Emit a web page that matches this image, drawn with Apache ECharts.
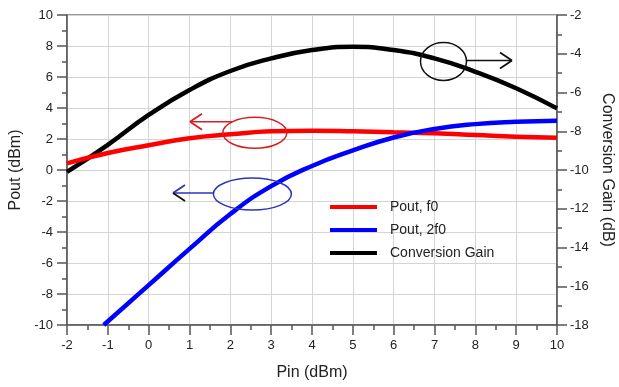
<!DOCTYPE html>
<html lang="en" style="height: 100%">
<head>
<meta charset="utf-8">
<title>Pout and Conversion Gain vs Pin</title>
</head>
<body style="height: 100%; margin: 0; background: #fff">
<div id="container" style="height: 100%"></div>
<script type="text/javascript" src="https://cdn.jsdelivr.net/npm/echarts/dist/echarts.min.js"></script>
<script type="text/javascript">

// Pin (dBm)
var pin = [-2, -1, 0, 1, 2, 3, 4, 5, 6, 7, 8, 9, 10];
// Pout at f0 (dBm), left axis
var poutF0 = [0.43, 1.1, 1.6, 2.05, 2.3, 2.5, 2.54, 2.5, 2.43, 2.37, 2.26, 2.15, 2.08];
// Pout at 2f0 (dBm), left axis; the curve enters the plot near Pin = -1.1
var pin2f0 = [-1.1, 0, 1, 2, 3, 4, 5, 6, 7, 8, 9, 10];
var pout2f0 = [-10, -7.43, -5.09, -2.84, -1.04, 0.26, 1.26, 2.1, 2.65, 2.96, 3.11, 3.18];
// Conversion gain (dB), right axis
var convGain = [-10.1, -8.7, -7.16, -5.87, -4.89, -4.24, -3.81, -3.64, -3.81, -4.24, -4.93, -5.78, -6.82];

function pairs(xs, ys) {
  return xs.map(function (x, i) { return [x, ys[i]]; });
}

var dom = document.getElementById('container');
var myChart = echarts.init(dom);
var font = 'Liberation Sans, Arial, sans-serif';

var axisLine = { show: true, onZero: false, lineStyle: { color: '#555', width: 1.5 } };
var tick = { show: true, length: 10, lineStyle: { color: '#555', width: 1.5 } };
var minor = { show: true, splitNumber: 2, length: 5, lineStyle: { color: '#555', width: 1.5 } };

var option = {
  backgroundColor: '#fff',
  animation: false,
  textStyle: { fontFamily: font },
  grid: {
    left: 67, right: 62, top: 15, bottom: 62,
    outerBoundsMode: 'none',
    show: true, borderColor: '#777', borderWidth: 1.5, backgroundColor: 'transparent'
  },
  legend: {
    orient: 'vertical',
    left: 325,
    top: 195,
    icon: 'rect',
    itemWidth: 47,
    itemHeight: 4,
    itemGap: 9,
    textStyle: { fontSize: 14, color: '#222', fontFamily: font, padding: [0, 0, 0, 8] },
    data: ['Pout, f0', 'Pout, 2f0', 'Conversion Gain']
  },
  xAxis: {
    type: 'value',
    min: -2, max: 10, interval: 1,
    name: 'Pin (dBm)',
    nameLocation: 'middle',
    nameGap: 40,
    nameTextStyle: { fontSize: 16, color: '#222' },
    axisLine: axisLine,
    axisTick: tick,
    minorTick: minor,
    axisLabel: { fontSize: 13, color: '#222', margin: 14 },
    splitLine: { show: true, lineStyle: { color: '#d4d4d4', width: 1 } }
  },
  yAxis: [
    {
      type: 'value',
      min: -10, max: 10, interval: 2,
      name: 'Pout (dBm)',
      nameLocation: 'middle',
      nameGap: 42,
      nameTextStyle: { fontSize: 16, color: '#222' },
      axisLine: axisLine,
      axisTick: tick,
      minorTick: minor,
      axisLabel: { fontSize: 13, color: '#222', margin: 14 },
      splitLine: { show: true, lineStyle: { color: '#d4d4d4', width: 1 } }
    },
    {
      type: 'value',
      position: 'right',
      min: -18, max: -2, interval: 2,
      name: 'Conversion Gain (dB)',
      nameLocation: 'middle',
      nameRotate: -90,
      nameGap: 42,
      nameTextStyle: { fontSize: 16, color: '#222' },
      axisLine: axisLine,
      axisTick: tick,
      minorTick: minor,
      axisLabel: { fontSize: 13, color: '#222', margin: 13 },
      splitLine: { show: false }
    }
  ],
  series: [
    {
      name: 'Pout, f0',
      type: 'line',
      yAxisIndex: 0,
      smooth: true,
      showSymbol: false,
      color: '#ff0000',
      lineStyle: { width: 4.5 },
      data: pairs(pin, poutF0),
      z: 3
    },
    {
      name: 'Pout, 2f0',
      type: 'line',
      yAxisIndex: 0,
      smooth: true,
      showSymbol: false,
      color: '#0000ff',
      lineStyle: { width: 4.5 },
      data: pairs(pin2f0, pout2f0),
      z: 4
    },
    {
      name: 'Conversion Gain',
      type: 'line',
      yAxisIndex: 1,
      smooth: true,
      showSymbol: false,
      color: '#000000',
      lineStyle: { width: 4.5 },
      data: pairs(pin, convGain),
      z: 2
    }
  ]
};

myChart.setOption(option);

// annotation ellipse with an arrow pointing toward its axis, anchored in data space
function ellipseArrow(cx, cy, rx, ry, dy, arrowTo, color, lowerBarbColor) {
  var c = myChart.convertToPixel({ gridIndex: 0 }, [cx, cy]);
  var dir = arrowTo < c[0] ? -1 : 1;
  var y = c[1] + dy;
  var startX = c[0] + dir * rx * Math.sqrt(Math.max(0, 1 - (dy * dy) / (ry * ry)));
  return [
    { type: 'ellipse', shape: { cx: c[0], cy: c[1], rx: rx, ry: ry },
      style: { fill: 'none', stroke: color, lineWidth: 1.5 }, z: 10 },
    { type: 'line', shape: { x1: startX, y1: y, x2: arrowTo, y2: y },
      style: { stroke: color, lineWidth: 1.5 }, z: 10 },
    { type: 'line', shape: { x1: arrowTo, y1: y, x2: arrowTo - dir * 12, y2: y - 8 },
      style: { stroke: color, lineWidth: 1.8 }, z: 10 },
    { type: 'line', shape: { x1: arrowTo, y1: y, x2: arrowTo - dir * 12, y2: y + 8 },
      style: { stroke: lowerBarbColor || color, lineWidth: 1.8 }, z: 10 }
  ];
}

var els = []
  .concat(ellipseArrow(2.6, 2.4, 32, 15.5, -11, 190, '#d42020'))
  .concat(ellipseArrow(2.54, -1.55, 39, 16, -1, 173, '#2b35b8', '#111'))
  .concat(ellipseArrow(7.22, 7.0, 23, 19, -1, 512, '#111'));
myChart.setOption({ graphic: { elements: els } });

window.addEventListener('resize', myChart.resize);
</script>
</body>
</html>
